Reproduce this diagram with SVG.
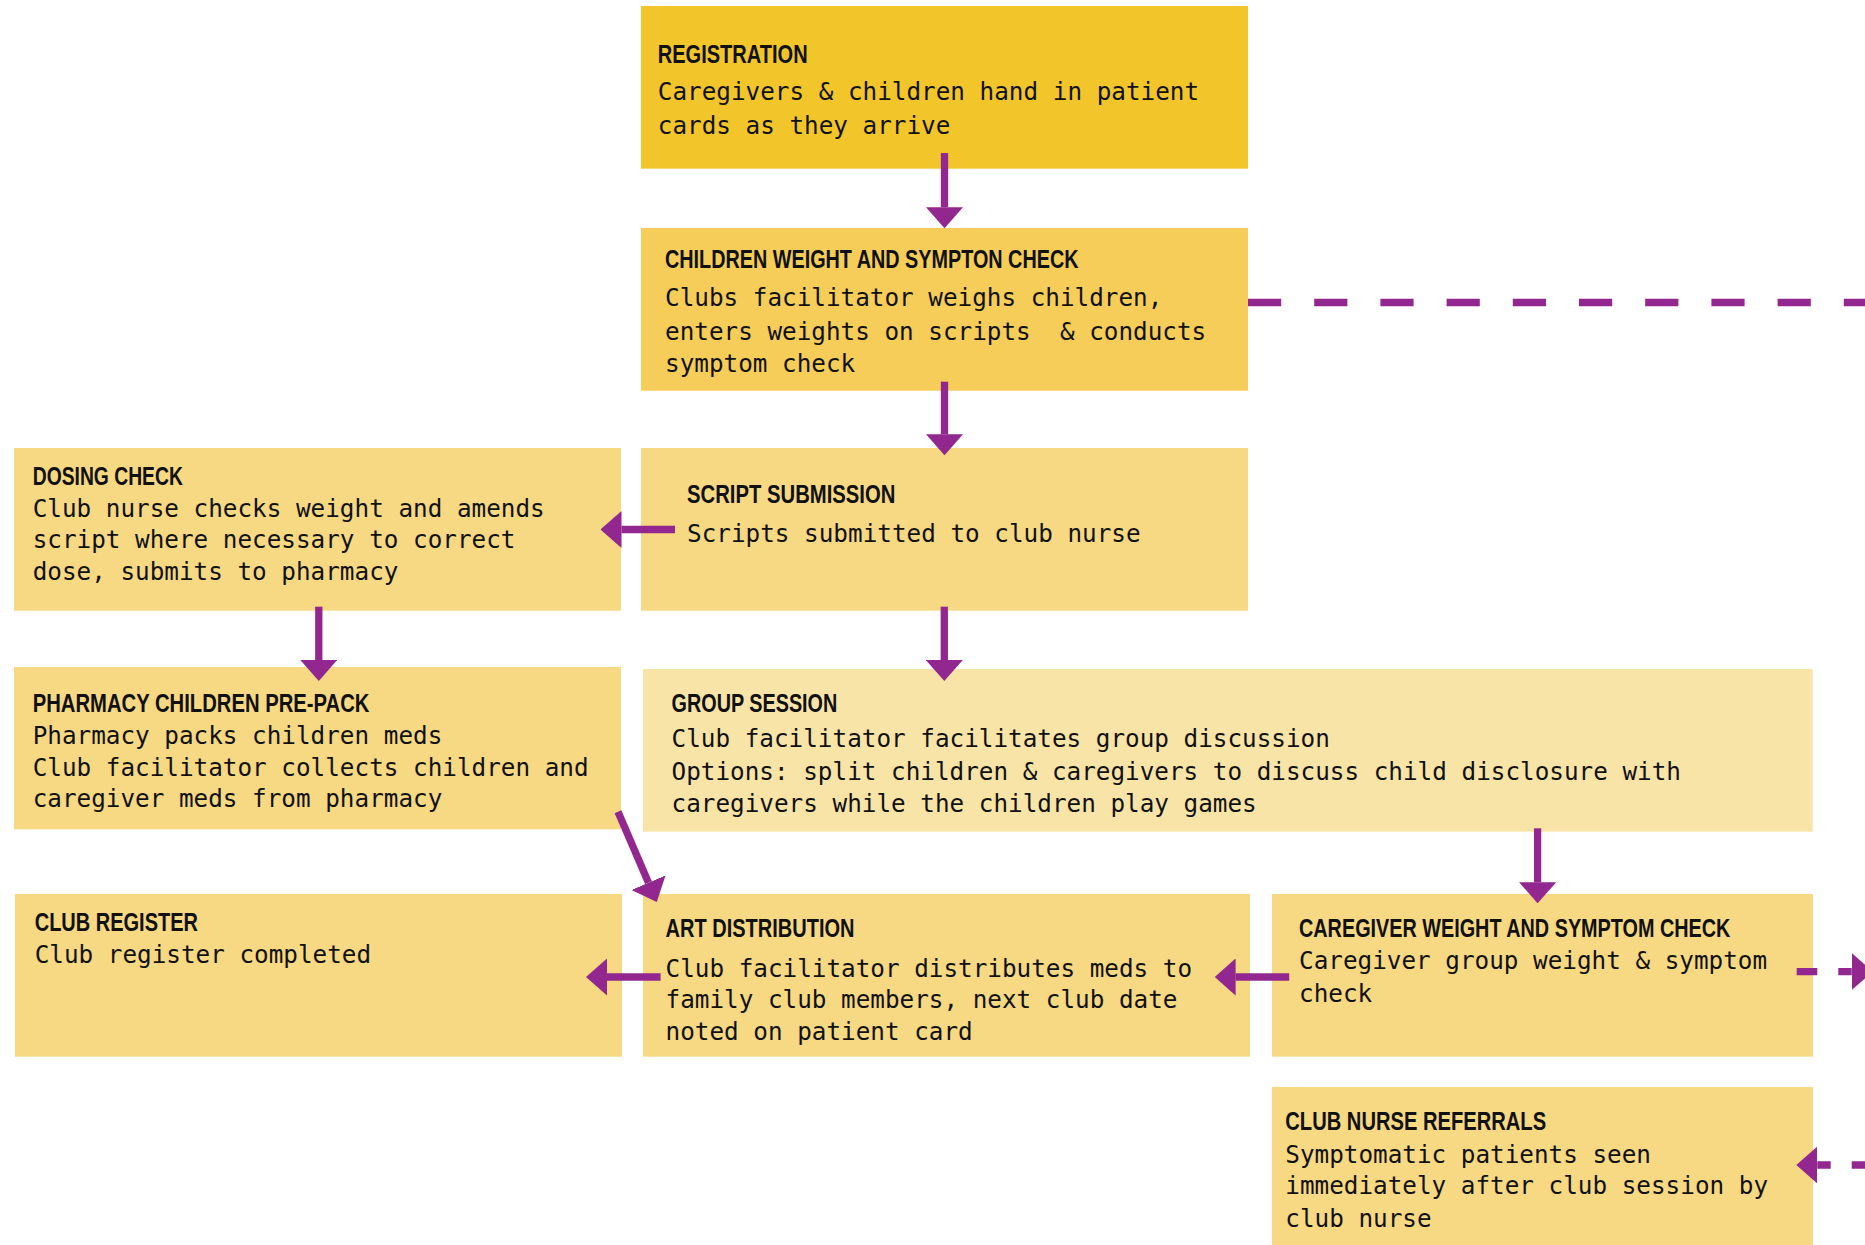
<svg xmlns="http://www.w3.org/2000/svg" width="1865" height="1245" viewBox="0 0 1865 1245">
<style>
  .h { font-family: "Liberation Sans Narrow", "Liberation Sans", "DejaVu Sans Condensed", sans-serif; font-weight: bold; font-size: 25.5px; fill: #111; }
  .b { font-family: "DejaVu Sans Mono", "Liberation Mono", monospace; font-size: 24.3px; fill: #111; white-space: pre; }
  .c1 { fill: #F2C62B; }
  .c2 { fill: #F5CD58; }
  .c3 { fill: #F7D883; }
  .c4 { fill: #F9E4A8; }
  .ln { stroke: #92278F; stroke-width: 7.3; fill: none; marker-end: url(#ah); }
  .d1 { stroke-dasharray: 33.2 33; }
  .d2 { stroke-dasharray: 20.6 21; }
  .d3 { stroke-dasharray: 20.3 21; }
  .nm { marker-end: none; }
</style>
<defs>
  <marker id="ah" viewBox="0 0 21 37" markerWidth="21" markerHeight="37" markerUnits="userSpaceOnUse" refX="0" refY="18.5" orient="auto">
    <path d="M0,0 L21,18.5 L0,37 Z" fill="#92278F"/>
  </marker>
</defs>
<rect width="1865" height="1245" fill="#FFFFFF"/>

<g id="registration">
  <rect class="c1" x="641" y="6" width="607" height="162.7"/>
  <text class="h" x="657.8" y="63.3" textLength="149.8" lengthAdjust="spacingAndGlyphs">REGISTRATION</text>
  <text class="b" x="657.8" y="100">Caregivers &amp; children hand in patient</text>
  <text class="b" x="657.8" y="133.5">cards as they arrive</text>
</g>

<g id="children-check">
  <rect class="c2" x="641" y="228" width="607" height="162.7"/>
  <text class="h" x="665" y="268" textLength="413.5" lengthAdjust="spacingAndGlyphs">CHILDREN WEIGHT AND SYMPTON CHECK</text>
  <text class="b" x="665" y="305.5">Clubs facilitator weighs children,</text>
  <text class="b" x="665" y="340" xml:space="preserve">enters weights on scripts  &amp; conducts</text>
  <text class="b" x="665" y="372">symptom check</text>
</g>

<g id="dosing-check">
  <rect class="c3" x="14" y="448" width="607" height="162.7"/>
  <text class="h" x="32.7" y="485" textLength="150.2" lengthAdjust="spacingAndGlyphs">DOSING CHECK</text>
  <text class="b" x="32.7" y="516.7">Club nurse checks weight and amends</text>
  <text class="b" x="32.7" y="548.3">script where necessary to correct</text>
  <text class="b" x="32.7" y="580">dose, submits to pharmacy</text>
</g>

<g id="script-submission">
  <rect class="c3" x="641" y="448" width="607" height="162.7"/>
  <text class="h" x="687.1" y="502.7" textLength="208.2" lengthAdjust="spacingAndGlyphs">SCRIPT SUBMISSION</text>
  <text class="b" x="687.1" y="541.7">Scripts submitted to club nurse</text>
</g>

<g id="pharmacy-prepack">
  <rect class="c3" x="14" y="667" width="607" height="162.3"/>
  <text class="h" x="32.7" y="711.7" textLength="336.7" lengthAdjust="spacingAndGlyphs">PHARMACY CHILDREN PRE-PACK</text>
  <text class="b" x="32.7" y="744">Pharmacy packs children meds</text>
  <text class="b" x="32.7" y="775.5">Club facilitator collects children and</text>
  <text class="b" x="32.7" y="807">caregiver meds from pharmacy</text>
</g>

<g id="group-session">
  <rect class="c4" x="643" y="669" width="1169.7" height="162.7"/>
  <text class="h" x="671.6" y="711.7" textLength="165.7" lengthAdjust="spacingAndGlyphs">GROUP SESSION</text>
  <text class="b" x="671.6" y="746.5">Club facilitator facilitates group discussion</text>
  <text class="b" x="671.6" y="780">Options: split children &amp; caregivers to discuss child disclosure with</text>
  <text class="b" x="671.6" y="811.5">caregivers while the children play games</text>
</g>

<g id="club-register">
  <rect class="c3" x="15" y="894" width="607" height="162.7"/>
  <text class="h" x="34.7" y="930.7" textLength="163.3" lengthAdjust="spacingAndGlyphs">CLUB REGISTER</text>
  <text class="b" x="34.7" y="962.7">Club register completed</text>
</g>

<g id="art-distribution">
  <rect class="c3" x="643" y="894" width="607" height="162.7"/>
  <text class="h" x="665.5" y="936.7" textLength="189" lengthAdjust="spacingAndGlyphs">ART DISTRIBUTION</text>
  <text class="b" x="665.5" y="976.7">Club facilitator distributes meds to</text>
  <text class="b" x="665.5" y="1008.3">family club members, next club date</text>
  <text class="b" x="665.5" y="1040">noted on patient card</text>
</g>

<g id="caregiver-check">
  <rect class="c3" x="1272" y="894" width="541" height="162.7"/>
  <text class="h" x="1299" y="937.3" textLength="431.4" lengthAdjust="spacingAndGlyphs">CAREGIVER WEIGHT AND SYMPTOM CHECK</text>
  <text class="b" x="1299" y="969.3">Caregiver group weight &amp; symptom</text>
  <text class="b" x="1299" y="1001.7">check</text>
</g>

<g id="nurse-referrals">
  <rect class="c3" x="1272" y="1087" width="541" height="170"/>
  <text class="h" x="1285.3" y="1130" textLength="260.8" lengthAdjust="spacingAndGlyphs">CLUB NURSE REFERRALS</text>
  <text class="b" x="1285.3" y="1163.3">Symptomatic patients seen</text>
  <text class="b" x="1285.3" y="1194.3">immediately after club session by</text>
  <text class="b" x="1285.3" y="1226.7">club nurse</text>
</g>

<g id="connectors">
  <path class="ln" d="M944.5,153 L944.5,207.3"/>
  <path class="ln" d="M944.5,381.7 L944.5,434.3"/>
  <path class="ln" d="M675,529.5 L621.5,529.5"/>
  <path class="ln" d="M318.8,606.7 L318.8,660"/>
  <path class="ln" d="M944.3,606.7 L944.3,660"/>
  <path class="ln" d="M618,811.7 L648.5,882.7"/>
  <path class="ln" d="M1537.6,828.3 L1537.6,882.3"/>
  <path class="ln" d="M1289.2,977 L1235.6,977"/>
  <path class="ln" d="M660.6,977 L607,977"/>
  <path class="ln d1 nm" d="M1248,302.5 L1870,302.5"/>
  <path class="ln d2" d="M1796.7,971.6 L1851.7,971.6"/>
  <path class="ln d3" d="M1872,1165 L1817.3,1165"/>
</g>
</svg>
